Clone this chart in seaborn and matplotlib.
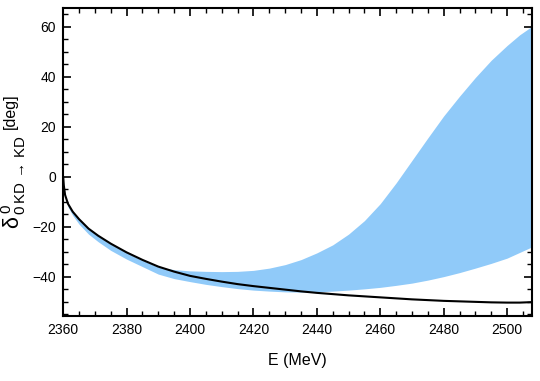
import numpy as np
import pandas as pd
import seaborn as sns
import matplotlib.pyplot as plt
from matplotlib.ticker import MultipleLocator

energy = [2360, 2360.2, 2360.6, 2361.5, 2363, 2365, 2368, 2371, 2375, 2380,
          2385, 2390, 2395, 2400, 2405, 2410, 2415, 2420, 2425, 2430,
          2435, 2440, 2445, 2450, 2455, 2460, 2465, 2470, 2475, 2480,
          2485, 2490, 2495, 2500, 2504, 2508]

# black curve (phase shift, deg)
phase = [0, -3.5, -7.3, -10.8, -14.0, -17.0, -20.8, -23.6, -26.8, -30.3,
         -33.3, -36.0, -38.0, -39.7, -40.9, -42.0, -43.0, -43.8, -44.5, -45.2,
         -45.9, -46.5, -47.0, -47.5, -47.9, -48.3, -48.7, -49.1, -49.4, -49.7,
         -49.9, -50.1, -50.3, -50.4, -50.4, -50.2]

# blue band edges
band_upper = [0, -3.7, -7.5, -11.0, -14.2, -17.2, -21.0, -23.8, -27.0, -30.5,
              -33.5, -36.2, -37.2, -37.7, -37.9, -38.0, -37.9, -37.5, -36.6, -35.2,
              -33.2, -30.5, -27.3, -23.0, -17.6, -10.8, -2.5, 6.5, 15.5, 24.3,
              32.2, 39.7, 46.6, 52.5, 56.8, 60.3]
band_lower = [0, -3.8, -7.8, -12.0, -15.5, -19.0, -23.0, -26.0, -29.5, -33.0,
              -36.0, -39.0, -40.8, -42.0, -43.1, -44.0, -44.8, -45.4, -45.8, -46.1,
              -46.2, -46.1, -45.8, -45.4, -44.9, -44.3, -43.5, -42.6, -41.4, -40.0,
              -38.4, -36.6, -34.7, -32.6, -30.3, -28.0]

df = pd.DataFrame({'E': energy, 'delta': phase,
                   'upper': band_upper, 'lower': band_lower})

sns.set_theme(style='ticks')
plt.rcParams['font.family'] = ['Liberation Sans', 'DejaVu Sans']
plt.rcParams['text.color'] = 'black'
plt.rcParams['mathtext.fontset'] = 'custom'
plt.rcParams['mathtext.rm'] = 'Liberation Sans'
plt.rcParams['mathtext.it'] = 'Liberation Sans'
plt.rcParams['mathtext.sf'] = 'Liberation Sans'

fig = plt.figure(figsize=(5.4, 3.81), dpi=100)
ax = fig.add_axes([0.117, 0.171, 0.869, 0.808])

ax.fill_between(df['E'], df['lower'], df['upper'], color='#90caf9', lw=0)
sns.lineplot(data=df, x='E', y='delta', color='black', lw=1.5, ax=ax)

ax.set_xlim(2360, 2508)
ax.set_ylim(-55.7, 67.5)
ax.xaxis.set_major_locator(MultipleLocator(20))
ax.xaxis.set_minor_locator(MultipleLocator(5))
ax.yaxis.set_major_locator(MultipleLocator(20))
ax.yaxis.set_minor_locator(MultipleLocator(5))
ax.tick_params(which='both', direction='in', top=True, right=True,
               color='black', labelsize=10, labelcolor='black')
ax.tick_params(which='major', length=6, width=1.2, pad=5)
ax.tick_params(which='minor', length=3.5, width=1)
for s in ax.spines.values():
    s.set_linewidth(1.5)
    s.set_color('black')

ax.set_xlabel('E (MeV)', fontsize=11.5, labelpad=12, color='black')
ax.set_ylabel('')
# y label built from two pieces: big delta with scripts, then [deg]
fig.text(0.026, 0.52, r'$\delta^{\,0}_{\,0\;\mathrm{KD}\,\rightarrow\,\mathrm{KD}}$',
         rotation=90, fontsize=15.5, ha='center', va='center', color='black')
fig.text(0.019, 0.707, '[deg]', rotation=90, fontsize=11.5, ha='center', va='center',
         color='black')

fig.savefig('out.png', dpi=100)
